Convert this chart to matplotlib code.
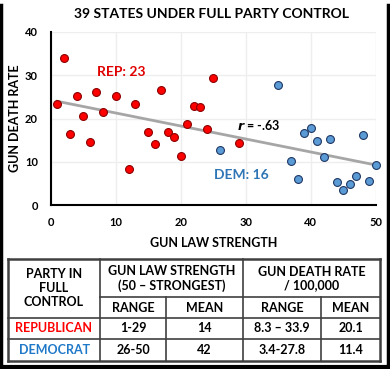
import numpy as np
import matplotlib
matplotlib.use("Agg")
import matplotlib.pyplot as plt
from matplotlib.lines import Line2D

plt.rcParams['font.family'] = ['Lato', 'DejaVu Sans']
plt.rcParams['font.weight'] = 'bold'

# gun law strength (x) and gun death rate per 100,000 (y)
rep_law = [1, 2, 3, 4, 5, 6, 7, 8, 10, 12, 13, 15, 16, 17, 18, 19, 20, 21, 22, 23, 24, 25, 29]
rep_rate = [23.3, 33.9, 16.5, 25.2, 20.5, 14.5, 26.2, 21.4, 25.2, 8.3, 23.4, 16.9, 14.2,
            26.7, 16.8, 15.7, 11.3, 18.7, 22.9, 22.6, 17.6, 29.4, 14.4]
dem_law = [26, 35, 37, 38, 39, 40, 41, 42, 43, 44, 45, 46, 47, 48, 49, 50]
dem_rate = [12.7, 27.8, 10.2, 5.9, 16.6, 17.8, 14.9, 11.2, 15.2, 5.4, 3.4, 4.9, 6.8,
            16.2, 5.5, 9.2]

# summary table
col_head = ["GUN LAW STRENGTH\n(50 \u2013 STRONGEST)", "GUN DEATH RATE\n/ 100,000"]
sub_head = ["RANGE", "MEAN", "RANGE", "MEAN"]
parties = ["REPUBLICAN", "DEMOCRAT"]
table_rows = [["1-29", "14", "8.3 \u2013 33.9", "20.1"],
              ["26-50", "42", "3.4-27.8", "11.4"]]

RED = "#ff0000"
BLUE = "#5b9bd5"

W, H = 390, 369
fig = plt.figure(figsize=(W / 100, H / 100), dpi=100)

ax = fig.add_axes([50.5 / W, 1 - 205 / H, 325.5 / W, 173 / H])
ax.set_xlim(0, 50)
ax.set_ylim(0, 40)
ax.set_xticks(range(0, 51, 10))
ax.set_yticks(range(0, 41, 10))
ax.grid(True, color="#eeeeee", lw=1)
ax.set_axisbelow(True)
for s in ["top", "right"]:
    ax.spines[s].set_visible(False)
for s in ["left", "bottom"]:
    ax.spines[s].set_linewidth(1.5)
    ax.spines[s].set_color("black")
ax.tick_params(length=0, labelsize=8, pad=9)
for lab in ax.get_xticklabels() + ax.get_yticklabels():
    lab.set_fontweight("bold")

# trendline over all states
all_x = np.array(rep_law + dem_law)
all_y = np.array(rep_rate + dem_rate)
slope, icpt = np.polyfit(all_x, all_y, 1)
xs = np.array([all_x.min(), all_x.max()])
ax.plot(xs, slope * xs + icpt, color="#a6a6a6", lw=2, zorder=2)

ax.scatter(rep_law, rep_rate, s=32, color=RED, edgecolor="#8b0000", lw=0.8,
           zorder=3, clip_on=False)
ax.scatter(dem_law, dem_rate, s=32, color=BLUE, edgecolor="#1f3864", lw=0.8,
           zorder=3, clip_on=False)

ax.text(10.9, 30.7, "REP: %d" % len(rep_law), color="#e00000", fontsize=10,
        fontweight="bold", ha="center", va="center")
ax.text(29.3, 7.0, "DEM: %d" % len(dem_law), color="#2e75b6", fontsize=10,
        fontweight="bold", ha="center", va="center")
ax.text(28.7, 18.5, r"$\mathbfit{r}$ = -.63", color="black", fontsize=9,
        fontweight="bold", ha="left", va="center")

ax.set_xlabel("GUN LAW STRENGTH", fontsize=9, fontweight="bold", labelpad=6)
ax.set_ylabel("GUN DEATH RATE", fontsize=9, fontweight="bold", labelpad=3)

fig.text(212 / W, 1 - 14 / H, "39 STATES UNDER FULL PARTY CONTROL",
         fontsize=10, fontweight="bold", ha="center", va="center")

# overlay in pixel coordinates for the table and frame
ov = fig.add_axes([0, 0, 1, 1])
ov.set_xlim(0, W)
ov.set_ylim(H, 0)
ov.axis("off")
ov.patch.set_visible(False)

grid_c = "#404040"
def hline(y, x0, x1, lw=1.2):
    ov.add_line(Line2D([x0, x1], [y, y], color=grid_c, lw=lw))
def vline(x, y0, y1, lw=1.2):
    ov.add_line(Line2D([x, x], [y0, y1], color=grid_c, lw=lw))

tl, tr, tt, tb = 8, 380, 259, 361
vline(tl, tt, tb, 1.8)
vline(tr, tt, tb, 1.8)
hline(tt, tl, tr, 1.8)
hline(tb, tl, tr, 1.8)
vline(100, tt, tb)
vline(243, tt, tb)
vline(166, 297, tb)
vline(321, 297, tb)
hline(297, 100, tr)
hline(318, tl, tr)
hline(339, tl, tr)

fs = 9
ov.text(54, 288, "PARTY IN\nFULL\nCONTROL", ha="center", va="center",
        fontsize=fs, fontweight="bold", linespacing=1.2)
for cx, txt in zip([171.5, 311.5], col_head):
    ov.text(cx, 278.5, txt, ha="center", va="center", fontsize=fs,
            fontweight="bold", linespacing=1.2)
sub_x = [133, 204.5, 282, 350.5]
for cx, txt in zip(sub_x, sub_head):
    ov.text(cx, 308, txt, ha="center", va="center", fontsize=fs, fontweight="bold")
row_y = [328.5, 350]
for ry, party, pc, vals in zip(row_y, parties, [RED, "#1f78c8"], table_rows):
    ov.text(54, ry, party, ha="center", va="center", fontsize=fs,
            fontweight="bold", color=pc)
    for cx, v in zip(sub_x, vals):
        ov.text(cx, ry, v, ha="center", va="center", fontsize=fs, fontweight="bold")

# black frame around the picture
ov.add_line(Line2D([1, 1], [5, H - 2], color="black", lw=2.5))
ov.add_line(Line2D([W - 2, W - 2], [5, H - 2], color="black", lw=2.5))
ov.add_line(Line2D([1, W - 2], [H - 2, H - 2], color="black", lw=3))

fig.savefig("out.png", dpi=100)
